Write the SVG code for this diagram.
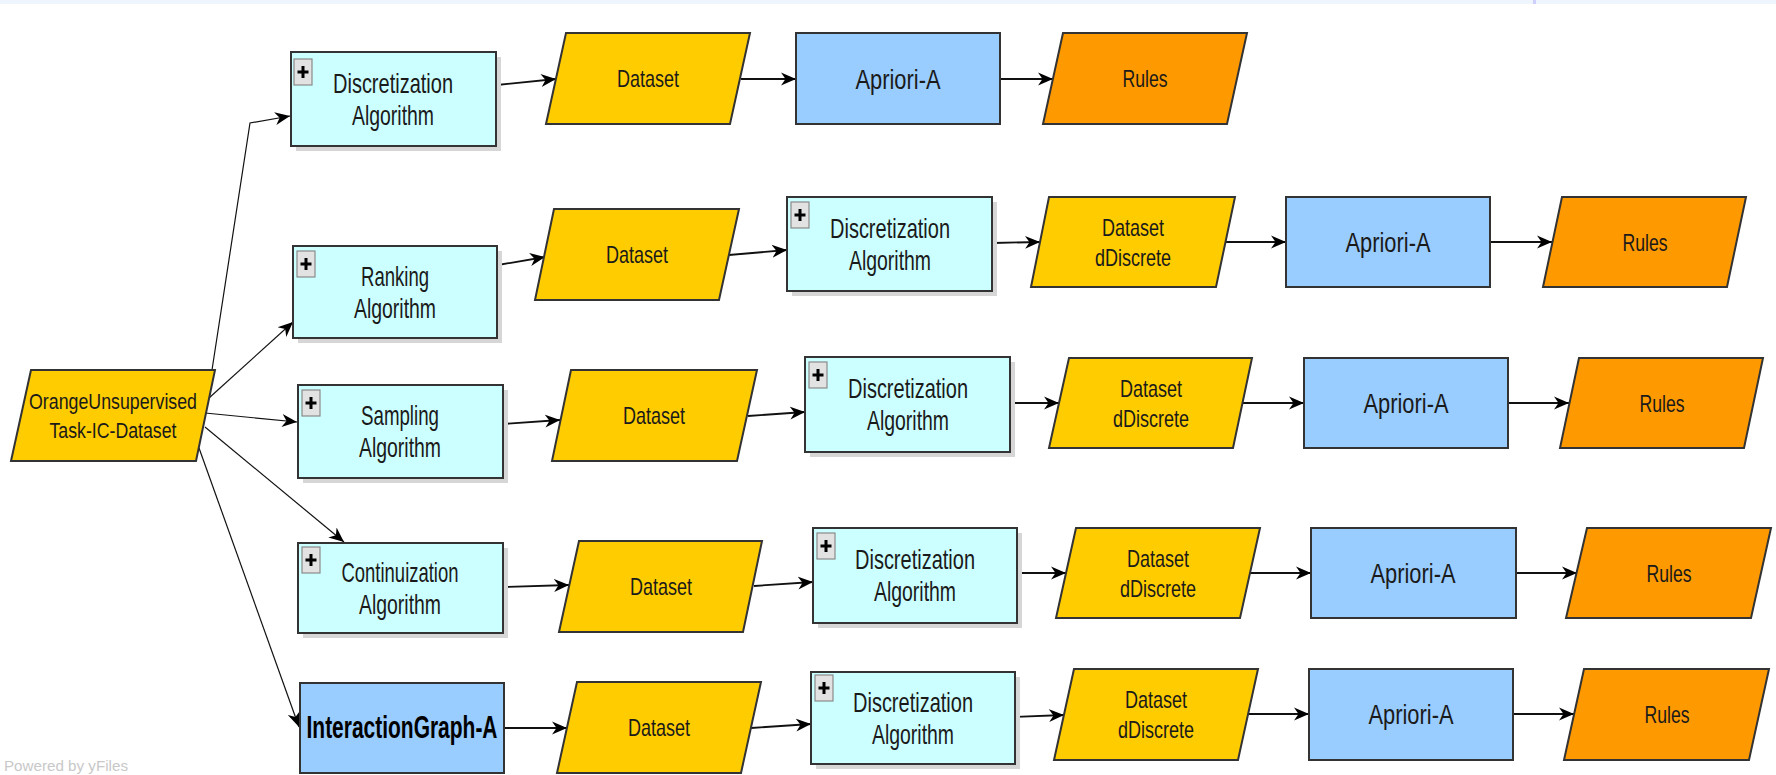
<svg xmlns="http://www.w3.org/2000/svg" xmlns:xlink="http://www.w3.org/1999/xlink" width="1776" height="775" viewBox="0 0 1776 775">
<style>
.cy{fill:#ccffff;stroke:#333;stroke-width:2}
.sh{fill:#d6d6d6}
.bl{fill:#99ccff;stroke:#333;stroke-width:2}
.ds{fill:#ffcc00;stroke:#333;stroke-width:2}
.ru{fill:#ff9900;stroke:#333;stroke-width:2}
text{font-family:"Liberation Sans",Arial,sans-serif;fill:#1a1a1a;text-anchor:middle}
.f28{font-size:28px}
.f24{font-size:24px}
.f22{font-size:22px}
.b{font-size:31px;font-weight:bold;fill:#000}
.e{fill:none;stroke:#111;stroke-width:1.8;marker-end:url(#ah)}
.s{fill:none;stroke:#111;stroke-width:1.2;marker-end:url(#ah)}
</style>
<defs>
<marker id="ah" markerWidth="17" markerHeight="15" refX="15" refY="7.5" orient="auto" markerUnits="userSpaceOnUse" viewBox="0 0 17 15">
<path d="M15,7.5 L0,1 L4.5,7.5 L0,14 Z" fill="#000"/>
</marker>
<g id="plus">
<rect x="0" y="0" width="18" height="26" fill="#e2e2e2" stroke="#8a8a8a" stroke-width="1.2"/>
<path d="M3.5,13 H14.5 M9,7 V19" stroke="#000" stroke-width="3"/>
</g>
</defs>
<rect x="0" y="0" width="1776" height="775" fill="#fff"/>
<rect x="0" y="0" width="1776" height="4" fill="#eef5fc"/>
<rect x="1533" y="0" width="3" height="4" fill="#d0d0ff"/>
<text x="66" y="771" style="font-size:15px;fill:#c8c8c8" textLength="124" lengthAdjust="spacingAndGlyphs">Powered by yFiles</text>

<g id="connectors">
<polyline class="s" points="212,370 250,123 290,116"/>
<line class="s" x1="209" y1="398" x2="293" y2="322"/>
<line class="s" x1="205" y1="413" x2="297" y2="422"/>
<line class="s" x1="205" y1="427" x2="344" y2="542"/>
<line class="s" x1="199" y1="448" x2="299" y2="727"/>

<line class="e" x1="497" y1="85" x2="556" y2="79"/>
<line class="e" x1="741" y1="79" x2="796" y2="79"/>
<line class="e" x1="1000" y1="79" x2="1053" y2="79"/>

<line class="e" x1="498" y1="265" x2="545" y2="257"/>
<line class="e" x1="729" y1="255" x2="787" y2="250"/>
<line class="e" x1="993" y1="243" x2="1040" y2="242"/>
<line class="e" x1="1226" y1="242" x2="1286" y2="242"/>
<line class="e" x1="1490" y1="242" x2="1552" y2="242"/>

<line class="e" x1="503" y1="424" x2="560" y2="420"/>
<line class="e" x1="748" y1="416" x2="805" y2="412"/>
<line class="e" x1="1010" y1="403" x2="1059" y2="403"/>
<line class="e" x1="1243" y1="403" x2="1304" y2="403"/>
<line class="e" x1="1508" y1="403" x2="1569" y2="403"/>

<line class="e" x1="503" y1="587" x2="569" y2="585"/>
<line class="e" x1="754" y1="586" x2="813" y2="582"/>
<line class="e" x1="1017" y1="573" x2="1066" y2="573"/>
<line class="e" x1="1250" y1="573" x2="1311" y2="573"/>
<line class="e" x1="1516" y1="573" x2="1577" y2="573"/>

<line class="e" x1="505" y1="728" x2="567" y2="728"/>
<line class="e" x1="751" y1="728" x2="811" y2="724"/>
<line class="e" x1="1015" y1="717" x2="1064" y2="715"/>
<line class="e" x1="1248" y1="714" x2="1309" y2="714"/>
<line class="e" x1="1513" y1="714" x2="1574" y2="714"/>
</g>

<g id="src">
<polygon class="ds" points="31,370 215,370 196,461 11,461"/>
<text class="f22" x="113" y="409" textLength="168" lengthAdjust="spacingAndGlyphs">OrangeUnsupervised</text>
<text class="f22" x="113" y="438" textLength="127" lengthAdjust="spacingAndGlyphs">Task-IC-Dataset</text>
</g>

<!-- Row 1 -->
<g id="r1_disc">
<rect class="sh" x="296" y="57" width="205" height="94"/>
<rect class="cy" x="291" y="52" width="205" height="94"/>
<use xlink:href="#plus" x="294" y="59"/>
<text class="f28" x="393" y="93" textLength="120" lengthAdjust="spacingAndGlyphs">Discretization</text>
<text class="f28" x="393" y="125" textLength="82" lengthAdjust="spacingAndGlyphs">Algorithm</text>
</g>
<g id="r1_ds">
<polygon class="ds" points="566,33 750,33 730,124 546,124"/>
<text class="f24" x="648" y="87" textLength="62" lengthAdjust="spacingAndGlyphs">Dataset</text>
</g>
<g id="r1_ap">
<rect class="bl" x="796" y="33" width="204" height="91"/>
<text class="f28" x="898" y="89" textLength="85" lengthAdjust="spacingAndGlyphs">Apriori-A</text>
</g>
<g id="r1_ru">
<polygon class="ru" points="1063,33 1247,33 1227,124 1043,124"/>
<text class="f24" x="1145" y="87" textLength="45" lengthAdjust="spacingAndGlyphs">Rules</text>
</g>

<!-- Row 2 -->
<g id="r2_rank">
<rect class="sh" x="298" y="251" width="204" height="92"/>
<rect class="cy" x="293" y="246" width="204" height="92"/>
<use xlink:href="#plus" x="297" y="251"/>
<text class="f28" x="395" y="286" textLength="68" lengthAdjust="spacingAndGlyphs">Ranking</text>
<text class="f28" x="395" y="318" textLength="82" lengthAdjust="spacingAndGlyphs">Algorithm</text>
</g>
<g id="r2_ds">
<polygon class="ds" points="554,209 739,209 719,300 535,300"/>
<text class="f24" x="637" y="263" textLength="62" lengthAdjust="spacingAndGlyphs">Dataset</text>
</g>
<g id="r2_disc">
<rect class="sh" x="792" y="202" width="205" height="94"/>
<rect class="cy" x="787" y="197" width="205" height="94"/>
<use xlink:href="#plus" x="791" y="202"/>
<text class="f28" x="890" y="238" textLength="120" lengthAdjust="spacingAndGlyphs">Discretization</text>
<text class="f28" x="890" y="270" textLength="82" lengthAdjust="spacingAndGlyphs">Algorithm</text>
</g>
<g id="r2_dd">
<polygon class="ds" points="1049,197 1235,197 1216,287 1031,287"/>
<text class="f24" x="1133" y="236" textLength="62" lengthAdjust="spacingAndGlyphs">Dataset</text>
<text class="f24" x="1133" y="266" textLength="76" lengthAdjust="spacingAndGlyphs">dDiscrete</text>
</g>
<g id="r2_ap">
<rect class="bl" x="1286" y="197" width="204" height="90"/>
<text class="f28" x="1388" y="252" textLength="85" lengthAdjust="spacingAndGlyphs">Apriori-A</text>
</g>
<g id="r2_ru">
<polygon class="ru" points="1562,197 1746,197 1727,287 1543,287"/>
<text class="f24" x="1645" y="251" textLength="45" lengthAdjust="spacingAndGlyphs">Rules</text>
</g>

<!-- Row 3 -->
<g id="r3_samp">
<rect class="sh" x="303" y="390" width="205" height="93"/>
<rect class="cy" x="298" y="385" width="205" height="93"/>
<use xlink:href="#plus" x="302" y="390"/>
<text class="f28" x="400" y="425" textLength="78" lengthAdjust="spacingAndGlyphs">Sampling</text>
<text class="f28" x="400" y="457" textLength="82" lengthAdjust="spacingAndGlyphs">Algorithm</text>
</g>
<g id="r3_ds">
<polygon class="ds" points="571,370 757,370 737,461 552,461"/>
<text class="f24" x="654" y="424" textLength="62" lengthAdjust="spacingAndGlyphs">Dataset</text>
</g>
<g id="r3_disc">
<rect class="sh" x="810" y="362" width="205" height="95"/>
<rect class="cy" x="805" y="357" width="205" height="95"/>
<use xlink:href="#plus" x="809" y="362"/>
<text class="f28" x="908" y="398" textLength="120" lengthAdjust="spacingAndGlyphs">Discretization</text>
<text class="f28" x="908" y="430" textLength="82" lengthAdjust="spacingAndGlyphs">Algorithm</text>
</g>
<g id="r3_dd">
<polygon class="ds" points="1069,358 1252,358 1233,448 1049,448"/>
<text class="f24" x="1151" y="397" textLength="62" lengthAdjust="spacingAndGlyphs">Dataset</text>
<text class="f24" x="1151" y="427" textLength="76" lengthAdjust="spacingAndGlyphs">dDiscrete</text>
</g>
<g id="r3_ap">
<rect class="bl" x="1304" y="358" width="204" height="90"/>
<text class="f28" x="1406" y="413" textLength="85" lengthAdjust="spacingAndGlyphs">Apriori-A</text>
</g>
<g id="r3_ru">
<polygon class="ru" points="1579,358 1763,358 1744,448 1560,448"/>
<text class="f24" x="1662" y="412" textLength="45" lengthAdjust="spacingAndGlyphs">Rules</text>
</g>

<!-- Row 4 -->
<g id="r4_cont">
<rect class="sh" x="303" y="548" width="205" height="90"/>
<rect class="cy" x="298" y="543" width="205" height="90"/>
<use xlink:href="#plus" x="302" y="547"/>
<text class="f28" x="400" y="582" textLength="117" lengthAdjust="spacingAndGlyphs">Continuization</text>
<text class="f28" x="400" y="614" textLength="82" lengthAdjust="spacingAndGlyphs">Algorithm</text>
</g>
<g id="r4_ds">
<polygon class="ds" points="579,541 762,541 743,632 559,632"/>
<text class="f24" x="661" y="595" textLength="62" lengthAdjust="spacingAndGlyphs">Dataset</text>
</g>
<g id="r4_disc">
<rect class="sh" x="818" y="533" width="204" height="95"/>
<rect class="cy" x="813" y="528" width="204" height="95"/>
<use xlink:href="#plus" x="817" y="533"/>
<text class="f28" x="915" y="569" textLength="120" lengthAdjust="spacingAndGlyphs">Discretization</text>
<text class="f28" x="915" y="601" textLength="82" lengthAdjust="spacingAndGlyphs">Algorithm</text>
</g>
<g id="r4_dd">
<polygon class="ds" points="1076,528 1260,528 1240,618 1056,618"/>
<text class="f24" x="1158" y="567" textLength="62" lengthAdjust="spacingAndGlyphs">Dataset</text>
<text class="f24" x="1158" y="597" textLength="76" lengthAdjust="spacingAndGlyphs">dDiscrete</text>
</g>
<g id="r4_ap">
<rect class="bl" x="1311" y="528" width="205" height="90"/>
<text class="f28" x="1413" y="583" textLength="85" lengthAdjust="spacingAndGlyphs">Apriori-A</text>
</g>
<g id="r4_ru">
<polygon class="ru" points="1587,528 1771,528 1751,618 1566,618"/>
<text class="f24" x="1669" y="582" textLength="45" lengthAdjust="spacingAndGlyphs">Rules</text>
</g>

<!-- Row 5 -->
<g id="r5_ig">
<rect class="bl" x="300" y="683" width="204" height="90"/>
<text class="b" x="402" y="738" textLength="191" lengthAdjust="spacingAndGlyphs">InteractionGraph-A</text>
</g>
<g id="r5_ds">
<polygon class="ds" points="577,682 761,682 741,773 557,773"/>
<text class="f24" x="659" y="736" textLength="62" lengthAdjust="spacingAndGlyphs">Dataset</text>
</g>
<g id="r5_disc">
<rect class="sh" x="816" y="677" width="204" height="92"/>
<rect class="cy" x="811" y="672" width="204" height="92"/>
<use xlink:href="#plus" x="815" y="675"/>
<text class="f28" x="913" y="712" textLength="120" lengthAdjust="spacingAndGlyphs">Discretization</text>
<text class="f28" x="913" y="744" textLength="82" lengthAdjust="spacingAndGlyphs">Algorithm</text>
</g>
<g id="r5_dd">
<polygon class="ds" points="1074,669 1258,669 1238,760 1054,760"/>
<text class="f24" x="1156" y="708" textLength="62" lengthAdjust="spacingAndGlyphs">Dataset</text>
<text class="f24" x="1156" y="738" textLength="76" lengthAdjust="spacingAndGlyphs">dDiscrete</text>
</g>
<g id="r5_ap">
<rect class="bl" x="1309" y="669" width="204" height="91"/>
<text class="f28" x="1411" y="724" textLength="85" lengthAdjust="spacingAndGlyphs">Apriori-A</text>
</g>
<g id="r5_ru">
<polygon class="ru" points="1584,669 1769,669 1749,760 1564,760"/>
<text class="f24" x="1667" y="723" textLength="45" lengthAdjust="spacingAndGlyphs">Rules</text>
</g>
</svg>
